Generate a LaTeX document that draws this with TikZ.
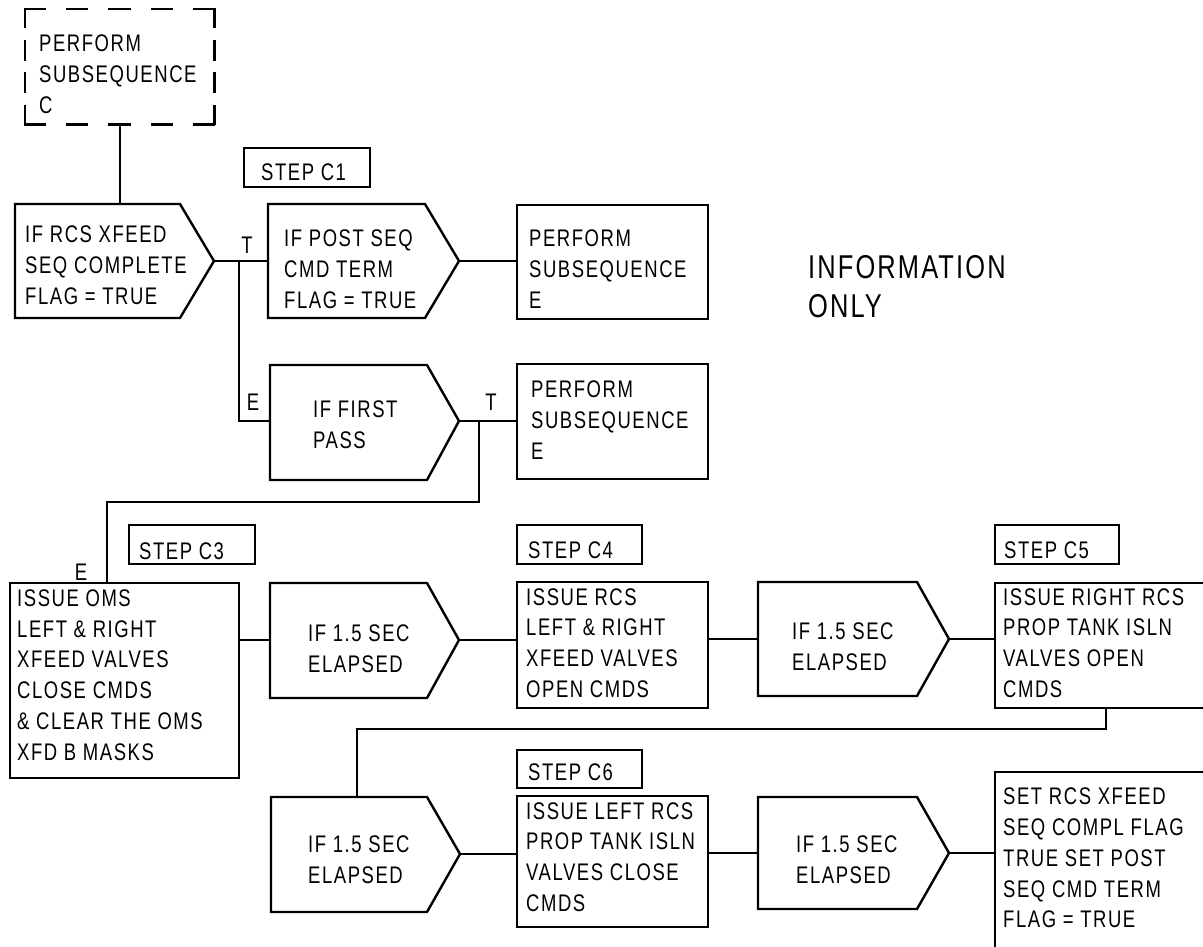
\documentclass[tikz,border=0pt]{standalone}
\usepackage{fontspec}
\setmainfont{Liberation Sans}[FakeStretch=0.77,LetterSpace=6.5]
\begin{document}
\begin{tikzpicture}[x=1pt,y=-1pt,
  ln/.style={line width=2.4pt, line join=miter},
  bx/.style={draw, line width=2.4pt, anchor=north west, inner sep=0pt},
  dsh/.style={line width=2.4pt, line cap=rect},
  txt/.style={anchor=west, align=left, inner sep=0pt, font=\fontsize{24}{30.8}\selectfont},
  lbl/.style={inner sep=0pt, font=\fontsize{24}{30.8}\selectfont}]
\useasboundingbox (0,0) rectangle (1203,946);
\clip (0,0) rectangle (1203,946);

% ---------- boxes ----------
\node[anchor=north west, inner sep=0pt, minimum width=189pt, minimum height=115pt] (pc) at (25,9) {};
\draw[dsh, dash pattern=on 20pt off 22.25pt] (pc.north west) -- (pc.north east);
\draw[dsh, dash pattern=on 20pt off 22.25pt] (pc.south west) -- (pc.south east);
\draw[dsh, dash pattern=on 18pt off 14.33pt] (pc.north west) -- (pc.south west);
\draw[dsh, dash pattern=on 18pt off 14.33pt] (pc.north east) -- (pc.south east);
\node[bx, minimum width=126pt, minimum height=39pt] (s1) at (243,147) {};
\node[bx, minimum width=191pt, minimum height=114pt] (pe1) at (516,204) {};
\node[bx, minimum width=191pt, minimum height=115pt] (pe2) at (516,363) {};
\node[bx, minimum width=126pt, minimum height=39pt] (s3) at (128,524) {};
\node[bx, minimum width=229pt, minimum height=195pt] (oms) at (9,582) {};
\node[bx, minimum width=125pt, minimum height=39pt] (s4) at (516,524) {};
\node[bx, minimum width=191pt, minimum height=126pt] (rcs) at (516,581) {};
\node[bx, minimum width=124pt, minimum height=39pt] (s5) at (994,524) {};
\node[bx, minimum width=230pt, minimum height=125pt] (rrcs) at (994,582) {};
\node[bx, minimum width=125pt, minimum height=38pt] (s6) at (516,749) {};
\node[bx, minimum width=191pt, minimum height=131pt] (lrcs) at (516,795) {};
\node[bx, minimum width=230pt, minimum height=200pt] (set) at (994,771) {};

% ---------- decisions ----------
\draw[ln] (15,204) coordinate (d1n) -- (180,204) -- (214,261) coordinate (d1e) -- (180,318) -- (15,318) -- cycle;
\draw[ln] (268,204) -- (425,204) -- (459,261) coordinate (d2e) -- (425,318) -- (268,318) -- (268,261) coordinate (d2w) -- cycle;
\draw[ln] (270,365) -- (427,365) -- (459,421) coordinate (d3e) -- (427,480) -- (270,480) -- (270,421) coordinate (d3w) -- cycle;
\draw[ln] (270,583) -- (427,583) -- (459,640) coordinate (c3e) -- (427,698) -- (270,698) -- (270,640) coordinate (c3w) -- cycle;
\draw[ln] (758,582) -- (917,582) -- (949,639) coordinate (c4e) -- (917,696) -- (758,696) -- (758,639) coordinate (c4w) -- cycle;
\draw[ln] (271,797) coordinate (c5nw) -- (427,797) -- (460,854) coordinate (c5e) -- (427,912) -- (271,912) -- cycle;
\draw[ln] (758,797) -- (917,797) -- (949,853) coordinate (c6e) -- (917,909) -- (758,909) -- (758,853) coordinate (c6w) -- cycle;

% ---------- texts ----------
\node[txt] (pcT) at (39,74) {PERFORM\\SUBSEQUENCE\\C};
\node[txt] (s1T) at (261,172) {STEP C1};
\node[txt] (d1T) at (25,265) {IF RCS XFEED\\SEQ COMPLETE\\FLAG = TRUE};
\node[txt] (d2T) at (284,269) {IF POST SEQ\\CMD TERM\\FLAG = TRUE};
\node[txt] (pe1T) at (529,269) {PERFORM\\SUBSEQUENCE\\E};
\node[txt] (d3T) at (313,425) {IF FIRST\\PASS};
\node[txt] (pe2T) at (531,420) {PERFORM\\SUBSEQUENCE\\E};
\node[txt] (s3T) at (139,551) {STEP C3};
\node[txt] (omsT) at (17,675) {ISSUE OMS\\LEFT \& RIGHT\\XFEED VALVES\\CLOSE CMDS\\\& CLEAR THE OMS\\XFD B MASKS};
\node[txt] (c3T) at (308,649) {IF 1.5 SEC\\ELAPSED};
\node[txt] (s4T) at (528,550) {STEP C4};
\node[txt] (rcsT) at (526,643) {ISSUE RCS\\LEFT \& RIGHT\\XFEED VALVES\\OPEN CMDS};
\node[txt] (c4T) at (792,647) {IF 1.5 SEC\\ELAPSED};
\node[txt] (s5T) at (1004,550) {STEP C5};
\node[txt] (rrcsT) at (1003,643) {ISSUE RIGHT RCS\\PROP TANK ISLN\\VALVES OPEN\\CMDS};
\node[txt] (c5T) at (308,860) {IF 1.5 SEC\\ELAPSED};
\node[txt] (s6T) at (528,772) {STEP C6};
\node[txt] (lrcsT) at (526,857) {ISSUE LEFT RCS\\PROP TANK ISLN\\VALVES CLOSE\\CMDS};
\node[txt] (c6T) at (796,860) {IF 1.5 SEC\\ELAPSED};
\node[txt] (setT) at (1003,858) {SET RCS XFEED\\SEQ COMPL FLAG\\TRUE SET POST\\SEQ CMD TERM\\FLAG = TRUE};
\node[anchor=west, align=left, inner sep=0pt, font=\fontsize{33}{39}\selectfont] (info) at (808,287) {INFORMATION\\ONLY};

% ---------- connectors ----------
\coordinate (j1) at (239,261);
\coordinate (j2) at (479,421);
\coordinate (j2b) at (107,502);
\coordinate (j3) at (1106,729);
\draw[ln] (pc.south) -- (pc.south |- d1n);
\draw[ln] (d1e) -- (d2w);
\draw[ln] (j1) |- (d3w);
\draw[ln] (d2e) -- (d2e -| pe1.west);
\draw[ln] (d3e) -- (d3e -| pe2.west);
\draw[ln] (j2) |- (j2b) -- (j2b |- oms.north);
\draw[ln] (c3w -| oms.east) -- (c3w);
\draw[ln] (c3e) -- (c3e -| rcs.west);
\draw[ln] (c4w -| rcs.east) -- (c4w);
\draw[ln] (c4e) -- (c4e -| rrcs.west);
\draw[ln] (j3 |- rrcs.south) -- (j3) -| ([xshift=86pt]c5nw);
\draw[ln] (c5e) -- (c5e -| lrcs.west);
\draw[ln] (c6w -| lrcs.east) -- (c6w);
\draw[ln] (c6e) -- (c6e -| set.west);

% ---------- branch labels ----------
\node[lbl] (t1) at (247,245) {T};
\node[lbl] (e1) at (253,402) {E};
\node[lbl] (t2) at (491,402) {T};
\node[lbl] (e2) at (81,572) {E};
\end{tikzpicture}
\end{document}
